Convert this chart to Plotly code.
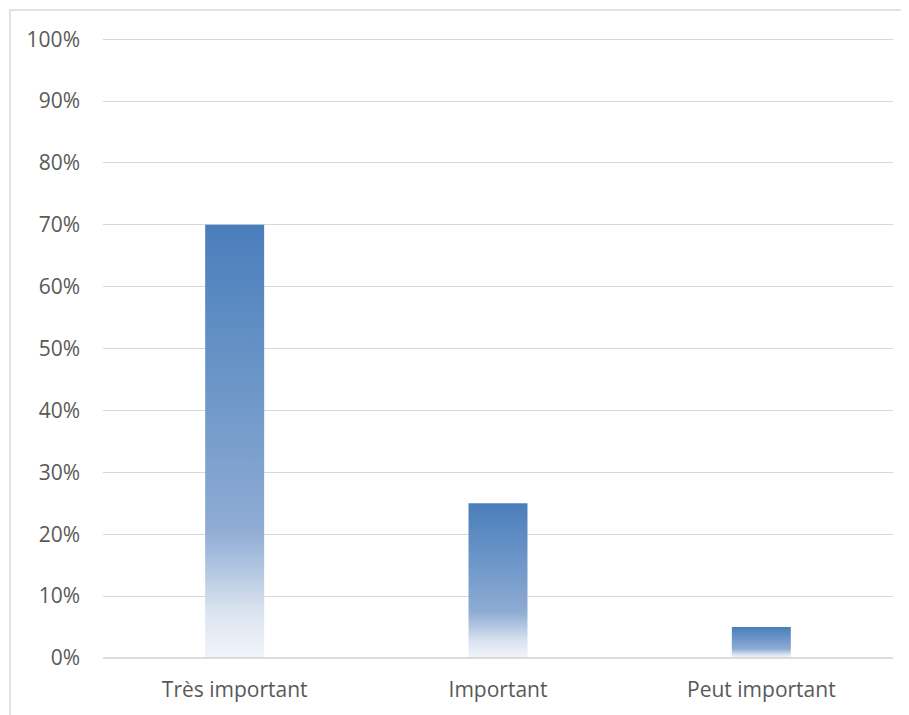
import plotly.graph_objects as go

categories = ["Très important", "Important", "Peut important"]
values = [0.70, 0.25, 0.05]
y_tick_values = [0, 0.1, 0.2, 0.3, 0.4, 0.5, 0.6, 0.7, 0.8, 0.9, 1.0]
y_tick_labels = ["0%", "10%", "20%", "30%", "40%", "50%", "60%", "70%", "80%", "90%", "100%"]

bar_width = 0.224
gradient = [[0.0, "#f1f4f9"], [0.1, "#dde5f1"], [0.24, "#a4bcdc"], [0.3, "#8eabd3"],
            [0.6, "#6f98c9"], [1.0, "#4a7ebb"]]

fig = go.Figure()
for i, (cat, v) in enumerate(zip(categories, values)):
    xs = [i - bar_width / 2, i + bar_width / 2, i + bar_width / 2, i - bar_width / 2, i - bar_width / 2]
    ys = [0, 0, v, v, 0]
    fig.add_trace(go.Scatter(
        x=xs, y=ys, mode="lines", fill="toself",
        line=dict(width=0, color="rgba(0,0,0,0)"),
        fillgradient=dict(type="vertical", colorscale=gradient, start=0, stop=v),
        name=cat, showlegend=False, hoverinfo="skip",
    ))

fig.update_layout(
    width=901, height=707,
    margin=dict(l=95, r=16, t=30, b=57),
    paper_bgcolor="white", plot_bgcolor="white",
    font=dict(family="Open Sans, sans-serif", size=21, color="#595959"),
    showlegend=False,
    xaxis=dict(range=[-0.5, 2.5], tickvals=list(range(len(categories))), ticktext=categories,
               showgrid=False, zeroline=False, showline=False, ticks="",
               ticklabelstandoff=17, fixedrange=True),
    yaxis=dict(range=[0, 1.002], tickvals=y_tick_values, ticktext=y_tick_labels,
               showgrid=True, gridcolor="#d9d9d9", gridwidth=1, zeroline=False,
               showline=False, ticks="", ticklabelstandoff=22),
    shapes=[
        dict(type="line", xref="paper", yref="paper", x0=0, x1=1, y0=0, y1=0,
             line=dict(color="#d0d0d0", width=1.5)),
        dict(type="rect", xref="paper", yref="paper", x0=-0.1177, x1=1.1, y0=-0.3, y1=1.045,
             line=dict(color="#d9d9d9", width=1.5), fillcolor="rgba(0,0,0,0)", layer="below"),
    ],
)

fig.write_html("out.html")
